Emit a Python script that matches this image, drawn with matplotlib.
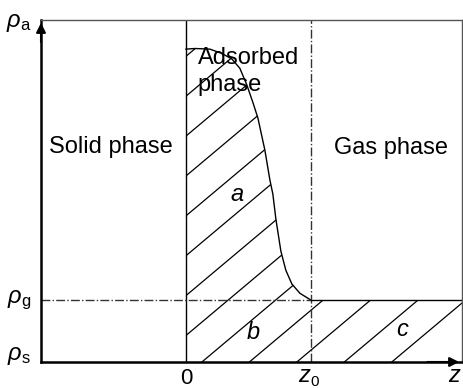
import matplotlib
matplotlib.use('Agg')
import matplotlib.pyplot as plt
from matplotlib.patches import Polygon
import numpy as np

plt.rcParams['font.family'] = ['Liberation Sans', 'DejaVu Sans']
plt.rcParams['mathtext.fontset'] = 'custom'
plt.rcParams['mathtext.rm'] = 'Liberation Sans'
plt.rcParams['mathtext.it'] = 'Liberation Sans:italic'

# density profile of the adsorbed layer (z in units of z0, rho in units of rho_g)
z_prof = [0.0, 0.072, 0.192, 0.288, 0.368, 0.432, 0.488, 0.536, 0.576, 0.632,
          0.672, 0.696, 0.72, 0.76, 0.80, 0.848, 0.912, 1.0]
rho_prof = [5.05, 5.06, 5.05, 4.98, 4.89, 4.74, 4.47, 4.19, 3.94, 3.42,
            2.94, 2.71, 2.31, 1.79, 1.48, 1.26, 1.11, 1.0]
z0 = 1.0
rho_g = 1.0
z_min, z_max = -1.16, 2.21
rho_max = 5.52

fig = plt.figure(figsize=(4.64, 3.88), dpi=100)
ax = fig.add_axes([41/464, 26/388, 421/464, 342/388])
ax.set_xlim(z_min, z_max)
ax.set_ylim(0, rho_max)
ax.set_xticks([])
ax.set_yticks([])
for side in ['top', 'right']:
    ax.spines[side].set_color('#555555')
    ax.spines[side].set_linewidth(1.0)
for side in ['left', 'bottom']:
    ax.spines[side].set_linewidth(1.8)

# arrows on the axes
ax.annotate('', xy=(z_min, rho_max), xytext=(z_min, rho_max - 0.4),
            arrowprops=dict(arrowstyle='-|>', color='black', lw=1.5,
                            mutation_scale=14), annotation_clip=False)
ax.annotate('', xy=(z_max, 0), xytext=(z_max - 0.3, 0),
            arrowprops=dict(arrowstyle='-|>', color='black', lw=1.5,
                            mutation_scale=14), annotation_clip=False)

# hatched region: under the profile, then under rho_g out to the gas
region = [(0, 0)] + list(zip(z_prof, rho_prof)) + [(z_max, rho_g), (z_max, 0)]
patch = Polygon(region, closed=True, fill=False, edgecolor='none')
ax.add_patch(patch)
slope = 1.694
for k in range(-10, 5):
    zk = 0.128 + 0.38 * k
    zs = np.array([zk, zk + rho_max / slope])
    ln, = ax.plot(zs, slope * (zs - zk), color='black', lw=0.9)
    ln.set_clip_path(patch)

# profile and reference lines
ax.plot(z_prof, rho_prof, color='black', lw=1.0)
ax.axvline(0, color='black', lw=1.0)
ax.axvline(z0, color='#333333', lw=1.0, ls='-.')
ax.plot([z_min, z0], [rho_g, rho_g], color='#333333', lw=1.0, ls='-.')
ax.plot([z0, z_max], [rho_g, rho_g], color='black', lw=1.0)

fs = 17
ax.text(-0.6, 3.47, 'Solid phase', fontsize=fs, ha='center', va='center')
ax.text(1.64, 3.46, 'Gas phase', fontsize=fs, ha='center', va='center')
ax.text(0.096, 4.69, 'Adsorbed\nphase', fontsize=fs, ha='left', va='center',
        linespacing=1.3)
ax.text(0.41, 2.71, 'a', fontsize=fs, style='italic', ha='center', va='center')
ax.text(0.54, 0.48, 'b', fontsize=fs, style='italic', ha='center', va='center')
ax.text(1.73, 0.53, 'c', fontsize=fs, style='italic', ha='center', va='center')

# axis labels
ax.text(z_min - 0.08, rho_max - 0.05, r'$\rho_{\rm a}$', fontsize=fs,
        ha='right', va='center')
ax.text(z_min - 0.08, rho_g, r'$\rho_{\rm g}$', fontsize=fs,
        ha='right', va='center')
ax.text(z_min - 0.08, 0.1, r'$\rho_{\rm s}$', fontsize=fs,
        ha='right', va='center')
ax.text(0, -0.1, '0', fontsize=fs - 1, ha='center', va='top')
ax.text(z0 - 0.01, -0.32, 'z', fontsize=fs, style='italic',
        ha='right', va='baseline')
ax.text(z0 + 0.0, -0.39, '0', fontsize=11, ha='left', va='baseline')
ax.text(z_max - 0.06, -0.32, 'z', fontsize=fs, style='italic',
        ha='center', va='baseline')

fig.savefig('out.png', dpi=100)
